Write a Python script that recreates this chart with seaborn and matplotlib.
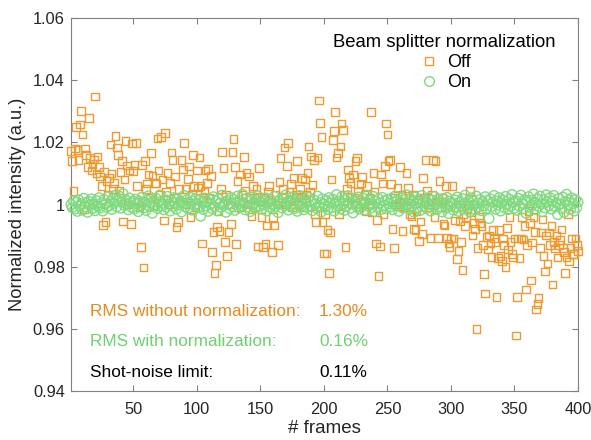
import numpy as np
import pandas as pd
import matplotlib
matplotlib.use("Agg")
import matplotlib.pyplot as plt
from matplotlib.lines import Line2D
import seaborn as sns

# ---------------- data ----------------
x_ticks = [50, 100, 150, 200, 250, 300, 350, 400]
y_ticks = [0.94, 0.96, 0.98, 1.00, 1.02, 1.04, 1.06]
y_tick_labels = ["0.94", "0.96", "0.98", "1", "1.02", "1.04", "1.06"]
series_names = ["Off", "On"]

off_001_050 = [1.0172, 1.0140, 1.0043, 1.0180, 1.0250, 1.0175, 1.0144, 1.0258, 1.0300, 1.0225,
               0.9985, 1.0180, 1.0160, 1.0120, 1.0279, 1.0150, 1.0110, 1.0130, 1.0145, 1.0347,
               1.0100, 1.0155, 1.0120, 1.0090, 1.0060, 0.9935, 1.0105, 0.9943, 1.0075, 1.0030,
               1.0085, 1.0193, 1.0100, 1.0050, 1.0070, 1.0220, 1.0184, 1.0160, 1.0045, 1.0105,
               1.0139, 0.9945, 1.0080, 1.0204, 1.0125, 1.0000, 1.0110, 0.9937, 1.0196, 1.0107]
off_051_100 = [1.0127, 1.0197, 1.0060, 1.0010, 0.9990, 0.9864, 1.0128, 0.9797, 1.0140, 1.0050,
               1.0068, 1.0096, 1.0020, 1.0165, 1.0093, 0.9995, 1.0070, 1.0068, 1.0212, 1.0110,
               1.0030, 1.0218, 1.0080, 0.9948, 1.0231, 1.0040, 1.0101, 1.0000, 1.0070, 1.0167,
               1.0144, 1.0020, 1.0090, 0.9927, 0.9943, 1.0050, 1.0010, 1.0144, 1.0112, 1.0197,
               1.0049, 1.0000, 1.0083, 1.0122, 0.9959, 1.0030, 1.0160, 1.0060, 0.9990, 1.0110]
off_101_150 = [1.0055, 1.0151, 1.0060, 0.9874, 1.0020, 1.0040, 1.0110, 1.0070, 1.0115, 1.0020,
               1.0091, 0.9848, 0.9911, 0.9779, 0.9806, 0.9927, 0.9980, 0.9914, 1.0050, 1.0168,
               1.0117, 0.9880, 1.0030, 0.9834, 0.9911, 1.0000, 0.9938, 1.0168, 1.0210, 1.0120,
               0.9872, 1.0075, 1.0010, 1.0096, 0.9990, 1.0030, 1.0153, 1.0045, 1.0101, 1.0000,
               1.0090, 1.0020, 0.9961, 1.0060, 1.0020, 0.9990, 1.0050, 0.9865, 1.0117, 1.0010]
off_151_200 = [0.9959, 0.9864, 1.0020, 0.9872, 0.9932, 1.0040, 1.0060, 1.0010, 0.9848, 0.9959,
               0.9932, 1.0030, 1.0000, 0.9869, 1.0073, 1.0149, 1.0020, 1.0050, 1.0183, 1.0000,
               1.0123, 1.0197, 1.0040, 1.0065, 0.9990, 1.0086, 1.0010, 1.0030, 1.0139, 1.0000,
               1.0050, 1.0020, 1.0086, 0.9990, 1.0080, 1.0030, 1.0101, 1.0186, 1.0040, 1.0154,
               1.0063, 1.0143, 0.9969, 0.9943, 1.0151, 1.0334, 1.0263, 1.0218, 0.9943, 0.9842]
off_201_250 = [0.9969, 0.9842, 0.9917, 0.9779, 0.9910, 1.0081, 1.0207, 1.0236, 1.0297, 1.0151,
               1.0165, 0.9969, 1.0186, 1.0260, 1.0239, 1.0030, 0.9864, 1.0050, 1.0112, 1.0085,
               1.0070, 1.0000, 1.0096, 1.0020, 1.0140, 1.0149, 1.0040, 0.9990, 1.0068, 1.0089,
               1.0010, 1.0030, 0.9980, 1.0060, 1.0000, 1.0020, 1.0297, 0.9975, 1.0101, 1.0040,
               0.9874, 0.9950, 0.9770, 0.9865, 1.0096, 1.0068, 0.9970, 1.0123, 1.0260, 1.0225]
off_251_300 = [1.0140, 1.0144, 1.0065, 0.9922, 0.9861, 1.0020, 1.0000, 1.0054, 0.9993, 1.0120,
               1.0030, 0.9914, 1.0010, 0.9990, 1.0101, 1.0054, 1.0020, 0.9970, 0.9961, 1.0030,
               0.9922, 0.9917, 0.9980, 1.0015, 0.9883, 0.9945, 0.9906, 1.0086, 1.0020, 1.0144,
               1.0045, 1.0000, 0.9990, 0.9892, 1.0030, 1.0144, 0.9960, 1.0140, 1.0010, 0.9892,
               1.0075, 0.9990, 1.0020, 0.9938, 0.9932, 1.0060, 0.9892, 0.9874, 0.9864, 0.9890]
off_301_350 = [1.0060, 0.9890, 0.9948, 0.9990, 0.9824, 0.9850, 0.9945, 0.9880, 0.9790, 0.9970,
               0.9930, 0.9960, 0.9985, 1.0000, 1.0043, 0.9975, 0.9900, 0.9940, 0.9922, 0.9600,
               0.9861, 0.9960, 0.9940, 0.9930, 0.9870, 0.9777, 0.9714, 0.9895, 0.9855, 0.9900,
               0.9874, 0.9832, 0.9918, 0.9890, 0.9880, 0.9703, 0.9827, 0.9917, 0.9834, 0.9818,
               0.9890, 0.9870, 0.9798, 0.9925, 0.9855, 0.9960, 0.9880, 0.9840, 0.9830, 0.9890]
off_351_400 = [0.9578, 0.9703, 0.9890, 0.9828, 0.9890, 0.9960, 0.9888, 0.9930, 0.9727, 0.9870,
               0.9980, 0.9940, 0.9756, 0.9878, 0.9960, 0.9911, 0.9662, 0.9679, 0.9700, 0.9860,
               0.9910, 0.9952, 0.9835, 0.9785, 0.9900, 0.9810, 0.9910, 0.9870, 0.9930, 0.9742,
               0.9880, 0.9859, 0.9900, 0.9830, 0.9870, 0.9885, 0.9920, 0.9860, 0.9848, 0.9780,
               0.9830, 0.9970, 0.9816, 0.9860, 0.9890, 0.9840, 0.9840, 0.9890, 0.9870, 0.9850]

on_001_050 = [1.0000, 0.9990, 1.0012, 0.9985, 1.0008, 0.9978, 1.0015, 0.9995, 1.0003, 0.9982,
              1.0020, 0.9992, 1.0006, 0.9975, 1.0010, 0.9998, 1.0018, 0.9987, 1.0002, 0.9980,
              1.0013, 0.9994, 1.0022, 0.9989, 1.0005, 0.9979, 1.0016, 1.0001, 0.9991, 1.0025,
              0.9996, 1.0009, 0.9984, 1.0019, 1.0004, 1.0030, 0.9993, 1.0012, 1.0027, 0.9988,
              1.0008, 1.0035, 0.9997, 1.0015, 1.0002, 0.9983, 1.0021, 1.0006, 0.9990, 1.0011]
on_051_100 = [0.9986, 1.0017, 1.0003, 0.9977, 1.0010, 0.9995, 1.0024, 0.9989, 1.0007, 0.9981,
              1.0014, 1.0028, 0.9993, 1.0005, 0.9972, 1.0012, 0.9998, 1.0020, 0.9987, 1.0009,
              1.0031, 0.9996, 1.0004, 0.9983, 1.0016, 0.9991, 1.0026, 1.0001, 0.9979, 1.0013,
              0.9994, 1.0022, 1.0006, 0.9985, 1.0018, 0.9999, 1.0010, 0.9976, 1.0003, 1.0029,
              0.9992, 1.0015, 0.9988, 1.0007, 1.0023, 0.9982, 1.0011, 0.9997, 1.0019, 1.0002]
on_101_150 = [0.9990, 1.0014, 0.9962, 1.0006, 0.9984, 1.0021, 0.9995, 1.0009, 0.9978, 1.0016,
              1.0002, 0.9987, 1.0025, 0.9993, 1.0011, 0.9980, 1.0018, 1.0004, 0.9991, 1.0030,
              0.9997, 1.0008, 0.9975, 1.0013, 1.0001, 0.9986, 1.0022, 0.9994, 1.0016, 0.9981,
              1.0007, 1.0027, 0.9989, 1.0012, 0.9996, 1.0033, 1.0003, 0.9983, 1.0019, 0.9992,
              1.0010, 0.9977, 1.0024, 0.9999, 1.0006, 0.9988, 1.0015, 1.0028, 0.9995, 1.0008]
on_151_200 = [0.9985, 1.0012, 0.9998, 1.0021, 0.9979, 1.0005, 0.9992, 1.0017, 1.0001, 0.9986,
              1.0026, 0.9994, 1.0009, 0.9974, 1.0014, 1.0003, 0.9989, 1.0020, 0.9997, 1.0031,
              1.0007, 0.9982, 1.0013, 0.9995, 1.0024, 1.0000, 0.9987, 1.0016, 0.9978, 1.0010,
              1.0029, 0.9993, 1.0004, 0.9983, 1.0019, 1.0008, 0.9991, 1.0023, 0.9996, 1.0011,
              0.9980, 1.0015, 1.0002, 0.9988, 1.0027, 0.9994, 1.0006, 0.9976, 1.0018, 1.0001]
on_201_250 = [0.9992, 1.0013, 0.9984, 1.0022, 1.0004, 0.9990, 1.0017, 0.9979, 1.0008, 1.0032,
              0.9996, 1.0011, 0.9986, 1.0025, 1.0002, 0.9981, 1.0015, 0.9994, 1.0028, 1.0006,
              0.9988, 1.0019, 0.9973, 1.0009, 1.0001, 0.9993, 1.0024, 0.9985, 1.0012, 0.9998,
              1.0020, 0.9982, 1.0007, 1.0030, 0.9995, 1.0014, 0.9989, 1.0003, 1.0026, 0.9977,
              1.0010, 0.9991, 1.0018, 1.0005, 0.9984, 1.0023, 0.9997, 1.0012, 0.9987, 1.0016]
on_251_300 = [1.0003, 0.9991, 1.0020, 0.9983, 1.0009, 1.0027, 0.9996, 1.0013, 0.9978, 1.0006,
              1.0022, 0.9989, 1.0015, 0.9999, 1.0031, 1.0002, 0.9986, 1.0018, 0.9993, 1.0010,
              0.9975, 1.0024, 1.0005, 0.9990, 1.0016, 0.9981, 1.0029, 1.0008, 0.9995, 1.0012,
              0.9987, 1.0021, 1.0001, 0.9979, 1.0014, 0.9997, 1.0026, 1.0006, 0.9984, 1.0017,
              0.9992, 1.0009, 0.9976, 1.0019, 1.0003, 0.9988, 1.0023, 0.9971, 1.0011, 0.9994]
on_301_350 = [1.0006, 0.9982, 1.0015, 0.9991, 1.0024, 0.9978, 1.0008, 0.9995, 1.0019, 0.9986,
              1.0030, 1.0002, 0.9989, 1.0012, 0.9976, 1.0021, 0.9997, 1.0010, 0.9983, 1.0027,
              1.0004, 0.9992, 1.0016, 0.9980, 1.0009, 0.9996, 1.0025, 0.9987, 1.0013, 0.9955,
              1.0018, 0.9993, 1.0007, 1.0029, 0.9985, 1.0011, 0.9998, 1.0022, 0.9979, 1.0005,
              1.0014, 0.9990, 1.0026, 1.0001, 0.9984, 1.0017, 0.9994, 1.0032, 1.0008, 0.9988]
on_351_400 = [1.0012, 0.9981, 1.0020, 0.9995, 1.0030, 1.0004, 0.9986, 1.0016, 0.9972, 1.0009,
              1.0025, 0.9991, 1.0013, 0.9998, 1.0034, 1.0006, 0.9983, 1.0018, 0.9994, 1.0027,
              1.0002, 0.9977, 1.0015, 0.9989, 1.0031, 1.0008, 0.9996, 1.0022, 0.9985, 1.0011,
              1.0029, 0.9993, 1.0005, 0.9968, 1.0019, 1.0001, 0.9987, 1.0024, 0.9975, 1.0010,
              1.0033, 0.9997, 1.0014, 0.9984, 1.0021, 1.0003, 0.9979, 1.0016, 0.9990, 1.0008]

rms_labels = ["RMS without normalization:", "RMS with normalization:", "Shot-noise limit:"]
rms_values = ["1.30%", "0.16%", "0.11%"]

# ---------------- assemble ----------------
off_vals = np.concatenate([off_001_050, off_051_100, off_101_150, off_151_200,
                           off_201_250, off_251_300, off_301_350, off_351_400])
on_vals = np.concatenate([on_001_050, on_051_100, on_101_150, on_151_200,
                          on_201_250, on_251_300, on_301_350, on_351_400])
frames = np.arange(1, len(off_vals) + 1)
df_off = pd.DataFrame({"frame": frames, "value": off_vals})
df_on = pd.DataFrame({"frame": frames, "value": on_vals})

# ---------------- style ----------------
sns.set_style("ticks")
plt.rcParams["font.family"] = ["Liberation Sans", "DejaVu Sans"]

ORANGE = "#EE9A30"
GREEN = "#80DA80"
ORANGE_TXT = "#E58B1F"
GREEN_TXT = "#6FD06F"
AXC = "#808080"
TXT = "#262626"

W, H = 591, 440
fig = plt.figure(figsize=(W / 100, H / 100), dpi=100)
L, R, T, B = 71, 578, 18, 391
ax = fig.add_axes([L / W, 1 - B / H, (R - L) / W, (B - T) / H])

sns.scatterplot(data=df_off, x="frame", y="value", ax=ax, marker="s", s=30,
                facecolors="none", edgecolors=ORANGE, linewidths=1.0,
                clip_on=False, legend=False, zorder=3)
sns.scatterplot(data=df_on, x="frame", y="value", ax=ax, marker="o", s=48,
                facecolors="none", edgecolors=GREEN, linewidths=1.0,
                clip_on=False, legend=False, zorder=4)

ax.set_xlim(1, 400)
ax.set_ylim(0.94, 1.06)
ax.set_xticks(x_ticks)
ax.set_yticks(y_ticks)
ax.set_yticklabels(y_tick_labels)
ax.tick_params(direction="in", length=4, width=0.8, color=AXC, labelcolor=TXT,
               labelsize=11.8, top=True, right=True)
ax.tick_params(axis="x", pad=8)
ax.tick_params(axis="y", pad=4.5)
for sp in ax.spines.values():
    sp.set_visible(True)
    sp.set_color(AXC)
    sp.set_linewidth(0.8)

ax.set_xlabel("# frames", fontsize=13.5, color=TXT, labelpad=2)
ax.set_ylabel("Normalized intensity (a.u.)", fontsize=13.2, color=TXT, labelpad=5)

handles = [Line2D([], [], ls="none", marker="s", ms=6, mfc="none", mec=ORANGE, mew=1.0),
           Line2D([], [], ls="none", marker="o", ms=7, mfc="none", mec=GREEN, mew=1.0)]
leg = ax.legend(handles, series_names, title="Beam splitter normalization",
                loc="upper right", frameon=False, fontsize=13, title_fontsize=13.3,
                handletextpad=0.4, handlelength=1.2, labelspacing=0.15,
                borderaxespad=0.2, bbox_to_anchor=(0.977, 0.985))
for t in leg.get_texts():
    t.set_color("black")
leg.get_title().set_color("black")

colors = [ORANGE_TXT, GREEN_TXT, "black"]
ys = [311, 342, 372]
for lab, val, c, yp in zip(rms_labels, rms_values, colors, ys):
    fig.text(90 / W, 1 - yp / H, lab, color=c, fontsize=12.4, va="center", ha="left")
    fig.text(319 / W, 1 - yp / H, val, color=c, fontsize=12.4, va="center", ha="left")

fig.savefig("out.png", dpi=100)
